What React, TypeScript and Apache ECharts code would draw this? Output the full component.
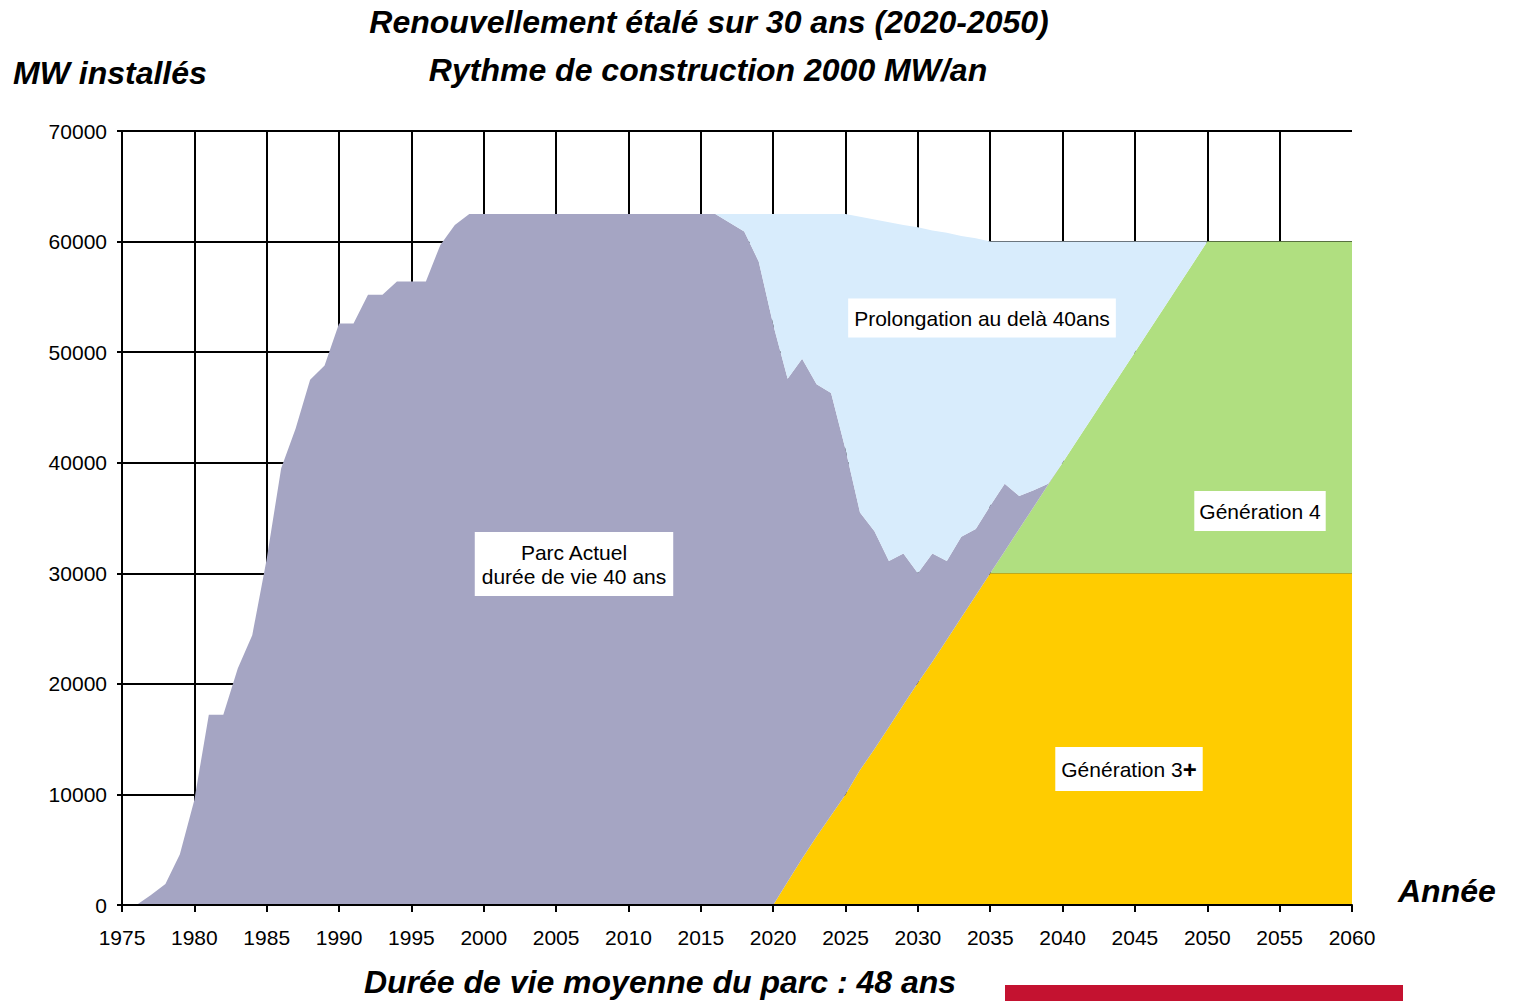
import React, { useEffect, useRef } from 'react';
import * as echarts from 'echarts';

const YEARS = [
  1975, 1976, 1977, 1978, 1979, 1980, 1981, 1982, 1983, 1984,
  1985, 1986, 1987, 1988, 1989, 1990, 1991, 1992, 1993, 1994,
  1995, 1996, 1997, 1998, 1999, 2000, 2001, 2002, 2003, 2004,
  2005, 2006, 2007, 2008, 2009, 2010, 2011, 2012, 2013, 2014,
  2015, 2016, 2017, 2018, 2019, 2020, 2021, 2022, 2023, 2024,
  2025, 2026, 2027, 2028, 2029, 2030, 2031, 2032, 2033, 2034,
  2035, 2036, 2037, 2038, 2039, 2040, 2041, 2042, 2043, 2044,
  2045, 2046, 2047, 2048, 2049, 2050, 2051, 2052, 2053, 2054,
  2055, 2056, 2057, 2058, 2059, 2060,
];

// Génération 3+ (MW)
const GEN3_PLUS = [
  0, 0, 0, 0, 0, 0, 0, 0, 0, 0,
  0, 0, 0, 0, 0, 0, 0, 0, 0, 0,
  0, 0, 0, 0, 0, 0, 0, 0, 0, 0,
  0, 0, 0, 0, 0, 0, 0, 0, 0, 0,
  0, 0, 0, 0, 0, 0, 2100, 4200, 6200, 8100,
  10000, 12200, 14100, 16100, 18100, 20100, 22000, 24000, 26000, 28000,
  30000, 30000, 30000, 30000, 30000, 30000, 30000, 30000, 30000, 30000,
  30000, 30000, 30000, 30000, 30000, 30000, 30000, 30000, 30000, 30000,
  30000, 30000, 30000, 30000, 30000, 30000,
];

// Génération 4 (MW)
const GEN4 = [
  0, 0, 0, 0, 0, 0, 0, 0, 0, 0,
  0, 0, 0, 0, 0, 0, 0, 0, 0, 0,
  0, 0, 0, 0, 0, 0, 0, 0, 0, 0,
  0, 0, 0, 0, 0, 0, 0, 0, 0, 0,
  0, 0, 0, 0, 0, 0, 0, 0, 0, 0,
  0, 0, 0, 0, 0, 0, 0, 0, 0, 0,
  0, 2000, 4000, 6000, 8000, 10000, 12000, 14000, 16000, 18000,
  20000, 22000, 24000, 26000, 28000, 30000, 30000, 30000, 30000, 30000,
  30000, 30000, 30000, 30000, 30000, 30000,
];

// Parc actuel, durée de vie 40 ans (MW)
const PARC_ACTUEL = [
  0, 0, 900, 1900, 4600, 9500, 17200, 17200, 21400, 24400,
  31300, 39500, 43100, 47500, 48800, 52600, 52600, 55200, 55200, 56400,
  56400, 56400, 59700, 61500, 62500, 62500, 62500, 62500, 62500, 62500,
  62500, 62500, 62500, 62500, 62500, 62500, 62500, 62500, 62500, 62500,
  62500, 62500, 61700, 60900, 58200, 52500, 45500, 45200, 40900, 38200,
  31200, 23300, 19700, 15000, 13700, 9900, 9800, 7100, 7300, 6000,
  6100, 6100, 3000, 1500, 100, 0, 0, 0, 0, 0,
  0, 0, 0, 0, 0, 0, 0, 0, 0, 0,
  0, 0, 0, 0, 0, 0,
];

// Prolongation au-delà de 40 ans (MW)
const PROLONGATION = [
  0, 0, 0, 0, 0, 0, 0, 0, 0, 0,
  0, 0, 0, 0, 0, 0, 0, 0, 0, 0,
  0, 0, 0, 0, 0, 0, 0, 0, 0, 0,
  0, 0, 0, 0, 0, 0, 0, 0, 0, 0,
  0, 0, 800, 1600, 4300, 10000, 14900, 13100, 15400, 16200,
  21300, 26750, 28200, 30650, 29700, 31300, 29200, 29700, 27200, 26300,
  23900, 21900, 23000, 22500, 21900, 20000, 18000, 16000, 14000, 12000,
  10000, 8000, 6000, 4000, 2000, 0, 0, 0, 0, 0,
  0, 0, 0, 0, 0, 0,
];

const TITLE_1 = 'Renouvellement étalé sur 30 ans (2020-2050)';
const TITLE_2 = 'Rythme de construction 2000 MW/an';
const Y_NAME = 'MW installés';
const X_NAME = 'Année';
const FOOTER = 'Durée de vie moyenne du parc : 48 ans';

const FONT = "'Liberation Sans', Arial, Helvetica, sans-serif";

const COLORS = {
  gen3: '#FFCC00',
  gen4: '#B0DF80',
  parc: '#A5A5C3',
  prolong: '#D8ECFC',
};

function areaSeries(name: string, data: number[], color: string) {
  return {
    name,
    type: 'line',
    stack: 'total',
    data,
    symbol: 'none',
    showSymbol: false,
    smooth: false,
    lineStyle: { width: 0, opacity: 0 },
    areaStyle: { color, opacity: 1 },
    silent: true,
    z: 2,
  };
}

function bigText(text: string, x: number, y: number, align: string) {
  return {
    type: 'text',
    x,
    y,
    z: 100,
    style: {
      text,
      fontFamily: FONT,
      fontSize: 32,
      fontWeight: 'bold',
      fontStyle: 'italic',
      fill: '#000',
      align,
      verticalAlign: 'middle',
      textAlign: align,
      textVerticalAlign: 'middle',
    },
  };
}

function boxText(text: string, x: number, y: number, padding: number[], extra: any = {}) {
  return {
    type: 'text',
    x,
    y,
    z: 100,
    style: {
      text,
      fontFamily: FONT,
      fontSize: 21,
      lineHeight: 24,
      fill: '#000',
      backgroundColor: '#FFFFFF',
      padding,
      align: 'center',
      verticalAlign: 'middle',
      textAlign: 'center',
      textVerticalAlign: 'middle',
      ...extra,
    },
  };
}

export default function App() {
  const ref = useRef<HTMLDivElement>(null);

  useEffect(() => {
    if (!ref.current) return;
    const chart = echarts.init(ref.current, undefined, { renderer: 'svg' });
    const cats = YEARS.map(String);
    const option: any = {
      animation: false,
      backgroundColor: '#FFFFFF',
      grid: { left: 122, right: 162, top: 131, bottom: 96, containLabel: false },
      xAxis: [
        {
          type: 'category',
          data: cats,
          boundaryGap: false,
          z: 10,
          axisLine: { show: true, onZero: false, lineStyle: { color: '#000', width: 2 } },
          axisTick: { show: true, interval: 4, length: 7, lineStyle: { color: '#000', width: 2 } },
          axisLabel: { interval: 4, fontSize: 21, color: '#000', margin: 22, fontFamily: FONT },
          splitLine: { show: false },
        },
        {
          type: 'category',
          data: cats,
          boundaryGap: false,
          position: 'bottom',
          z: 0,
          axisLine: { show: false },
          axisTick: { show: false },
          axisLabel: { show: false },
          splitLine: {
            show: true,
            interval: (i: number) => i % 5 === 0 && i < YEARS.length - 1,
            lineStyle: { color: '#000', width: 2 },
          },
        },
      ],
      yAxis: {
        type: 'value',
        min: 0,
        max: 70000,
        interval: 10000,
        z: 0,
        axisLine: { show: true, lineStyle: { color: '#000', width: 2 } },
        axisTick: { show: true, length: 5, lineStyle: { color: '#000', width: 2 } },
        axisLabel: {
          fontSize: 21,
          color: '#000',
          margin: 15,
          fontFamily: FONT,
          formatter: (v: number) => String(v),
        },
        splitLine: { show: true, lineStyle: { color: '#000', width: 2 } },
      },
      series: [
        areaSeries('Génération 3+', GEN3_PLUS, COLORS.gen3),
        areaSeries('Génération 4', GEN4, COLORS.gen4),
        areaSeries('Parc Actuel', PARC_ACTUEL, COLORS.parc),
        areaSeries('Prolongation au delà 40ans', PROLONGATION, COLORS.prolong),
      ],
      graphic: {
        elements: [
          bigText(TITLE_1, 709, 22, 'center'),
          bigText(TITLE_2, 708, 70, 'center'),
          bigText(Y_NAME, 13, 73, 'left'),
          bigText(X_NAME, 1398, 891, 'left'),
          bigText(FOOTER, 660, 982, 'center'),
          {
            type: 'rect',
            z: 100,
            shape: { x: 1005, y: 985, width: 398, height: 16 },
            style: { fill: '#C41230' },
          },
          boxText('Prolongation au delà 40ans', 982, 318, [8, 6, 7, 6]),
          boxText('Parc Actuel\ndurée de vie 40 ans', 574, 564, [8, 7, 8, 7]),
          boxText('Génération 4', 1260, 511, [8, 5, 8, 5]),
          boxText('Génération 3{p|+}', 1129, 769, [10, 6, 10, 6], {
            rich: { p: { fontFamily: FONT, fontSize: 24, fontWeight: 'bold', fill: '#000' } },
          }),
        ],
      },
    };
    chart.setOption(option);
    return () => {
      chart.dispose();
    };
  }, []);

  return (
    <div
      ref={ref}
      style={{ position: 'fixed', left: 0, top: 0, width: 1514, height: 1001 }}
    />
  );
}
